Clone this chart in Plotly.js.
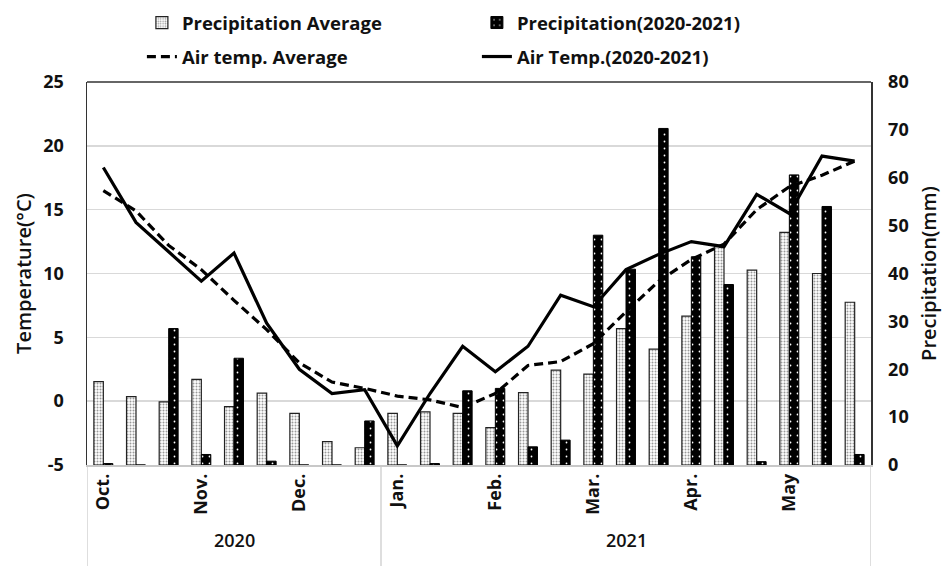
<!DOCTYPE html>
<html><head><meta charset="utf-8">
<script src="https://cdn.plot.ly/plotly-3.0.1.min.js"></script>
<style>html,body{margin:0;padding:0;background:#fff}</style>
</head><body><div id="chart" style="width:946px;height:566px"></div>
<script>
// 24 ten-day periods, Oct 2020 - May 2021
const periods = ["Oct-1","Oct-2","Oct-3","Nov-1","Nov-2","Nov-3","Dec-1","Dec-2","Dec-3",
  "Jan-1","Jan-2","Jan-3","Feb-1","Feb-2","Feb-3","Mar-1","Mar-2","Mar-3",
  "Apr-1","Apr-2","Apr-3","May-1","May-2","May-3"];
const monthLabels = ["Oct.","Nov.","Dec.","Jan.","Feb.","Mar.","Apr.","May"];
const years = ["2020","2021"];
const tempTicks = [-5,0,5,10,15,20,25];
const precipTicks = [0,10,20,30,40,50,60,70,80];
const precipAvg = [17.4,14.3,13.2,17.9,12.2,15.0,10.8,4.9,3.6,10.8,11.1,10.8,7.8,15.1,19.8,19.0,28.5,24.2,31.1,45.6,40.7,48.6,40.0,34.0];
const precip2021 = [0.3,0,28.5,2.2,22.3,0.8,0,0,9.2,0,0.3,15.5,16.0,3.8,5.2,48.0,40.9,70.3,43.5,37.7,0.7,60.6,54.0,2.2];
const tempAvg = [16.5,14.9,12.2,10.3,7.9,5.6,3.0,1.5,1.0,0.4,0.1,-0.5,0.6,2.8,3.1,4.5,7.0,9.4,11.1,12.3,15.0,16.8,17.7,18.8];
const temp2021 = [18.3,14.0,11.7,9.4,11.6,6.1,2.5,0.6,0.9,-3.5,0.6,4.3,2.3,4.3,8.3,7.4,10.3,11.5,12.5,12.1,16.2,14.7,19.2,18.8];

const xs = periods.map((p,i)=>i);
const monthTicks = monthLabels.map((m,i)=>i*3);
const FONT = "Open Sans, Noto Sans, sans-serif";

const traces = [
  {type:'bar', name:'Precipitation Average', x:xs, y:precipAvg, yaxis:'y2', legend:'legend',
   marker:{color:'#ffffff', line:{color:'#222', width:1.2},
     pattern:{shape:'.', fgcolor:'#999', bgcolor:'#ffffff', size:3, solidity:0.35}}},
  {type:'bar', name:'Precipitation(2020-2021)', x:xs, y:precip2021, yaxis:'y2', legend:'legend',
   marker:{color:'#000', line:{color:'#000', width:1},
     pattern:{shape:'.', fgcolor:'#ffffff', bgcolor:'#000000', size:7, solidity:0.05}}},
  {type:'scatter', mode:'lines', name:'Air temp. Average', x:xs, y:tempAvg, yaxis:'y', legend:'legend2',
   line:{color:'#000', width:3.2, dash:'9px,5px'}},
  {type:'scatter', mode:'lines', name:'Air Temp.(2020-2021)', x:xs, y:temp2021, yaxis:'y', legend:'legend2',
   line:{color:'#000', width:3.2}}
];

const legendBase = {orientation:'h', xref:'container', yref:'container', xanchor:'left', yanchor:'middle',
  x:0.15, entrywidth:290, entrywidthmode:'pixels', bgcolor:'rgba(0,0,0,0)',
  font:{family:FONT, size:18.5, color:'#111', weight:700}, itemwidth:30, traceorder:'normal'};

const layout = {
  width:946, height:566,
  margin:{l:87, r:75, t:82, b:101},
  paper_bgcolor:'#fff', plot_bgcolor:'#fff',
  font:{family:FONT, color:'#111'},
  barmode:'group', bargap:0.42, bargroupgap:0,
  showlegend:true,
  legend:Object.assign({}, legendBase, {y:1-23/566}),
  legend2:Object.assign({}, legendBase, {y:1-57/566}),
  xaxis:{range:[-0.5,23.5], tickmode:'array', tickvals:monthTicks, ticktext:monthLabels,
    tickangle:-90, showgrid:false, zeroline:false, ticks:'', showline:true, linecolor:'#c8c8c8', linewidth:1.5,
    tickfont:{family:FONT, size:18, weight:700, color:'#111'}, fixedrange:true},
  yaxis2:{range:[0,80], tickmode:'array', tickvals:precipTicks, ticktext:precipTicks.map(String),
    side:'right', showgrid:false, zeroline:false,
    showline:true, linecolor:'#333', linewidth:1.5, ticks:'', ticklabelstandoff:12,
    tickfont:{family:FONT, size:18, weight:700, color:'#111'},
    title:{text:'Precipitation(mm)', font:{family:FONT, size:20, weight:600, color:'#111'}, standoff:14}},
  yaxis:{range:[-5,25], tickmode:'array', tickvals:tempTicks, ticktext:tempTicks.map(String),
    overlaying:'y2', side:'left', showgrid:true, gridcolor:'#d9d9d9', gridwidth:1.5,
    zeroline:false, showline:true, linecolor:'#333', linewidth:1.5, ticks:'', ticklabelstandoff:18,
    tickfont:{family:FONT, size:18, weight:700, color:'#111'},
    title:{text:'Temperature(°C)', font:{family:FONT, size:20, weight:600, color:'#111'}, standoff:6}},
  shapes:[
    {type:'line', xref:'paper', yref:'paper', x0:0, x1:1, y0:1, y1:1, line:{color:'#333', width:1.5}},
    {type:'line', xref:'x', yref:'paper', x0:-0.5, x1:-0.5, y0:0, y1:-0.27, line:{color:'#c8c8c8', width:1.2}},
    {type:'line', xref:'x', yref:'paper', x0:8.5, x1:8.5, y0:0, y1:-0.27, line:{color:'#c8c8c8', width:1.2}},
    {type:'line', xref:'x', yref:'paper', x0:23.5, x1:23.5, y0:0, y1:-0.27, line:{color:'#c8c8c8', width:1.2}}
  ],
  annotations:[
    {text:years[0], xref:'x', yref:'paper', x:4, y:-(554-465)/383, showarrow:false,
     font:{family:FONT, size:18, weight:600, color:'#111'}},
    {text:years[1], xref:'x', yref:'paper', x:16, y:-(554-465)/383, showarrow:false,
     font:{family:FONT, size:18, weight:600, color:'#111'}}
  ]
};

Plotly.newPlot('chart', traces, layout, {displayModeBar:false, staticPlot:true});
</script></body></html>
